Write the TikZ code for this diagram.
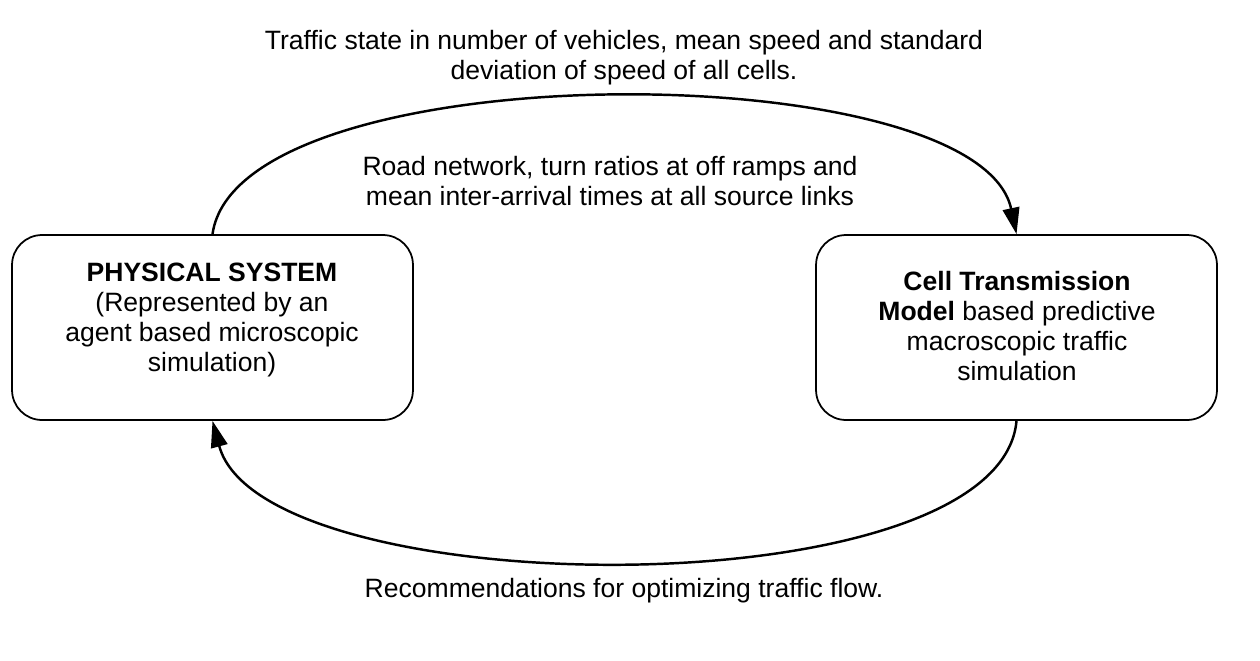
\documentclass[tikz,border=0pt]{standalone}
\usepackage{fontspec}
\setmainfont{Liberation Sans}
\usepackage{tikz}
\usetikzlibrary{arrows.meta}

\begin{document}
\begin{tikzpicture}[x=0.02cm,y=-0.02cm,
  sysbox/.style={draw,rounded corners=0.6cm,line width=1pt,minimum width=8.02cm,minimum height=3.7cm},
  boxtext/.style={align=center,font=\fontsize{15.1}{17}\selectfont},
  blank/.style={align=center,font=\fontsize{15.1}{17}\selectfont},
  flow/.style={line width=1.4pt,-{Triangle[length=15pt,width=9.5pt]}}]
\useasboundingbox (0,0) rectangle (1260,660);

\node(phys)[sysbox] at (212.5,327.5) {};
\node(ctm)[sysbox] at (1016.5,327.5) {};
\node(physlabel)[boxtext] at (212,320) {\textbf{PHYSICAL SYSTEM}\\(Represented by an\\agent based microscopic\\simulation)};
\node(ctmlabel)[boxtext] at (1017,326) {\textbf{Cell Transmission}\\\textbf{Model} based predictive\\macroscopic traffic\\simulation};

\node(state)[blank] at (624,58) {Traffic state in number of vehicles, mean speed and standard\\deviation of speed of all cells.};
\node(network)[blank] at (610,181) {Road network, turn ratios at off ramps and\\mean inter-arrival times at all source links};
\node(recommend)[blank] at (624,591) {Recommendations for optimizing traffic flow.};

\draw [flow] (phys.north) to[out=82,in=102,looseness=0.59] (ctm.north);
\draw [flow] (ctm.south) to[out=-95,in=-75,looseness=0.61] (phys.south);
\end{tikzpicture}
\end{document}
